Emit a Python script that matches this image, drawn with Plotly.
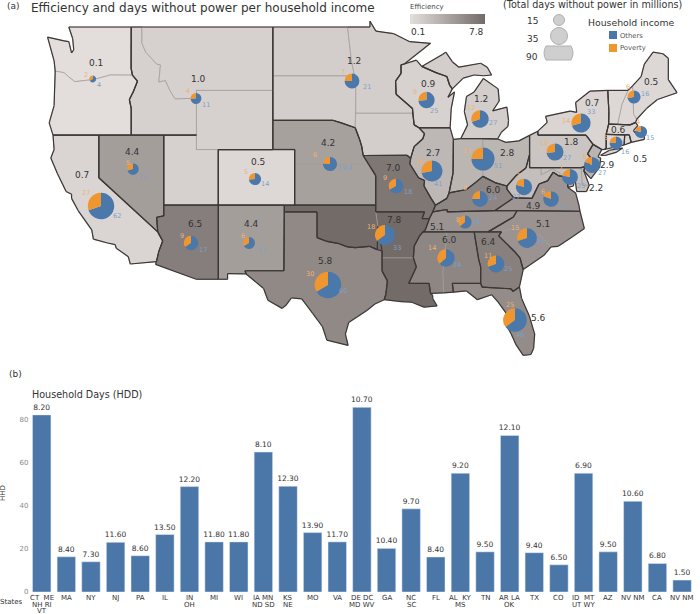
import math
import numpy as np
import plotly.graph_objects as go
from plotly.colors import sample_colorscale

# ---------- bar chart data ----------
bar_labels = ["CT  ME<br>NH RI<br>VT", "MA", "NY", "NJ", "PA", "IL", "IN<br>OH", "MI", "WI", "IA MN<br>ND SD",
              "KS<br>NE", "MO", "VA", "DE DC<br>MD WV", "GA", "NC<br>SC", "FL", "AL  KY<br>MS", "TN", "AR LA<br>OK",
              "TX", "CO", "ID  MT<br>UT WY", "AZ", "NV NM", "CA", "NV NM"]
bar_hdd = [82, 16.3, 14, 23, 16.8, 26.6, 48.8, 23.2, 23.2, 64.8, 49, 27.5, 23.2, 85.5, 20.2, 38.5, 16.2, 55, 18.6,
           72.5, 18.2, 12.6, 55, 18.6, 42, 13.2, 5.5]
bar_text = ["8.20", "8.40", "7.30", "11.60", "8.60", "13.50", "12.20", "11.80", "11.80", "8.10", "12.30", "13.90",
            "11.70", "10.70", "10.40", "9.70", "8.40", "9.20", "9.50", "12.10", "9.40", "6.50", "6.90", "9.50",
            "10.60", "6.80", "1.50"]

# ---------- map data: state outlines (lon, lat) ----------
col_river = [(-116.92,45.99),(-118.98,46.0),(-119.3,45.93),(-120.5,45.7),(-121.2,45.65),(-122.2,45.57),(-122.8,45.9),(-123.2,46.15),(-124.0,46.25)]
red_river = [(-100,34.56),(-99.2,34.3),(-98.1,34.13),(-97.2,33.85),(-96.5,33.8),(-95.2,33.9),(-94.48,33.64),(-94.04,33.55)]
states = {
 "WA": [[(-122.75,49),(-117.03,49),(-117.04,46.42)] + col_river + [(-124.1,46.9),(-124.7,48.38),(-123.2,48.15),(-122.75,48.1),(-122.5,47.4),(-122.3,47.6),(-122.4,48.3)]],
 "OR": [col_river[::-1] + [(-116.46,45.6),(-116.85,44.9),(-117.2,44.4),(-117.03,43.8),(-117.03,42),(-124.2,42),(-124.55,42.84),(-124.1,44)]],
 "ID": [[(-117.03,49),(-116.05,49),(-116.05,48),(-115.7,47.45),(-114.7,46.7),(-114.35,46.65),(-114.5,45.55),(-113.9,45.65),(-113.45,44.95),(-113.0,44.45),(-111.05,44.48),(-111.05,42),(-117.03,42),(-117.03,43.8),(-117.2,44.4),(-116.85,44.9),(-116.46,45.6),(-116.92,45.99),(-117.04,46.42)]],
 "MT": [[(-116.05,49),(-104.05,49),(-104.05,45.94),(-104.05,45),(-111.05,45),(-111.05,44.48),(-113.0,44.45),(-113.45,44.95),(-113.9,45.65),(-114.5,45.55),(-114.35,46.65),(-114.7,46.7),(-115.7,47.45),(-116.05,48)]],
 "WY": [[(-111.05,45),(-104.05,45),(-104.05,43),(-104.05,41),(-109.05,41),(-111.05,41),(-111.05,42),(-111.05,44.48)]],
 "UT": [[(-114.05,42),(-111.05,42),(-111.05,41),(-109.05,41),(-109.05,37),(-114.05,37)]],
 "CO": [[(-109.05,41),(-104.05,41),(-102.05,41),(-102.05,40),(-102.05,37),(-103,37),(-109.05,37)]],
 "NV": [[(-120,42),(-117.03,42),(-114.05,42),(-114.05,37),(-114.05,36.2),(-114.7,36.1),(-114.6,35),(-120,39)]],
 "CA": [[(-124.2,42),(-120,42),(-120,39),(-114.6,35),(-114.15,34.3),(-114.5,33.5),(-114.72,32.72),(-117.12,32.53),(-117.3,33.1),(-118.4,33.75),(-118.5,34.03),(-119.2,34.15),(-120.5,34.45),(-120.65,35.15),(-121.9,36.6),(-122.5,37.5),(-122.5,37.8),(-123.0,38),(-123.8,39.3),(-124.4,40.4),(-124.1,41)]],
 "AZ": [[(-114.05,37),(-109.05,37),(-109.05,31.33),(-111.07,31.33),(-114.8,32.5),(-114.72,32.72),(-114.5,33.5),(-114.15,34.3),(-114.6,35),(-114.7,36.1),(-114.05,36.2)]],
 "NM": [[(-109.05,37),(-103,37),(-103,36.5),(-103.04,32),(-106.6,32),(-106.5,31.75),(-108.2,31.78),(-108.2,31.33),(-109.05,31.33)]],
 "TX": [[(-103,36.5),(-100,36.5)] + red_river + [(-94.04,33),(-94.04,31.99),(-93.55,31.2),(-93.7,30.1),(-93.85,29.7),(-94.7,29.35),(-95.4,28.85),(-97.1,27.85),(-97.4,26.9),(-97.15,25.96),(-99.1,26.4),(-99.5,27.5),(-100.4,28.6),(-101.4,29.77),(-102.35,29.85),(-102.85,29.25),(-103.2,29),(-104.5,29.65),(-104.9,30.6),(-106.5,31.75),(-106.6,32),(-103.04,32)]],
 "OK": [[(-103,37),(-102.05,37),(-94.62,37),(-94.62,36.5),(-94.43,35.4)] + red_river[::-1] + [(-100,36.5),(-103,36.5)]],
 "AR": [[(-94.62,36.5),(-90.15,36.5),(-90.37,36),(-89.7,36),(-90.1,35.1),(-90.3,35),(-90.6,34.7),(-91.1,33.9),(-91.17,33),(-94.04,33),(-94.04,33.55),(-94.48,33.64),(-94.43,35.4)]],
 "LA": [[(-94.04,33),(-91.17,33),(-90.9,32.3),(-91.6,31),(-89.73,31),(-89.6,30.2),(-89.4,30.05),(-89.4,29.8),(-89.0,29.2),(-90.2,29.1),(-91.3,29.5),(-92.3,29.55),(-93.85,29.7),(-93.7,30.1),(-93.55,31.2),(-94.04,31.99)]],
 "MS": [[(-90.3,35),(-88.2,35),(-88.1,34.9),(-88.47,31.9),(-88.4,30.25),(-89.6,30.2),(-89.73,31),(-91.6,31),(-90.9,32.3),(-91.17,33),(-91.1,33.9),(-90.6,34.7)]],
 "AL": [[(-88.2,35),(-85.6,35),(-85.18,32.87),(-85,32.3),(-85,31),(-87.6,31),(-87.5,30.3),(-88.4,30.25),(-88.47,31.9),(-88.1,34.9)]],
 "GA": [[(-85.6,35),(-84.32,35),(-83.1,35),(-83.35,34.7),(-81.9,33.5),(-81.4,33),(-81.1,32.1),(-81.45,30.72),(-82.05,30.36),(-82.2,30.57),(-84.86,30.7),(-85,31),(-85,32.3),(-85.18,32.87)]],
 "FL": [[(-87.6,31),(-85,31),(-84.86,30.7),(-82.2,30.57),(-82.05,30.36),(-81.45,30.72),(-81.25,29.8),(-80.55,28.4),(-80.05,26.9),(-80.15,25.7),(-80.4,25.2),(-81.1,25.13),(-81.75,26),(-82.2,26.9),(-82.75,27.8),(-82.65,28.6),(-83.4,29.5),(-84.0,30.1),(-85.3,29.7),(-86.3,30.4),(-87.5,30.3)]],
 "SC": [[(-83.35,34.7),(-83.1,35),(-82.3,35.2),(-81.05,35.1),(-80.8,34.82),(-79.67,34.8),(-78.55,33.86),(-79.2,33.2),(-80.4,32.5),(-81.1,32.1),(-81.4,33),(-81.9,33.5)]],
 "NC": [[(-84.32,35),(-83.1,35),(-82.3,35.2),(-81.05,35.1),(-80.8,34.82),(-79.67,34.8),(-78.55,33.86),(-77.9,33.9),(-76.55,34.65),(-75.5,35.25),(-75.9,36.55),(-81.68,36.59),(-82.0,36.12)]],
 "TN": [[(-90.3,35),(-88.2,35),(-85.6,35),(-84.32,35),(-82.0,36.12),(-81.68,36.59),(-83.68,36.6),(-88.07,36.5),(-88.07,36.68),(-89.4,36.5),(-89.7,36),(-90.1,35.1)]],
 "KY": [[(-89.4,36.5),(-88.07,36.68),(-88.07,36.5),(-83.68,36.6),(-81.97,37.54),(-82.6,38.17),(-82.6,38.4),(-83.7,38.65),(-84.8,39.1),(-85.4,38.7),(-86.3,38.15),(-87.9,37.9),(-88.1,37.5),(-89.15,37)]],
 "VA": [[(-83.68,36.6),(-81.68,36.59),(-75.9,36.55),(-76.0,37.0),(-76.3,37.9),(-77.0,38.3),(-77.05,38.85),(-77.5,39.1),(-77.83,39.13),(-78.35,39.4),(-78.87,38.77),(-79.65,38.55),(-80.3,37.5),(-81.97,37.54)]],
 "WV": [[(-81.97,37.54),(-80.3,37.5),(-79.65,38.55),(-78.87,38.77),(-78.35,39.4),(-77.83,39.13),(-77.72,39.32),(-78.4,39.62),(-79.48,39.2),(-79.48,39.72),(-80.52,39.72),(-80.52,40.64),(-80.85,39.7),(-81.7,39.2),(-82.6,38.4),(-82.6,38.17)]],
 "MD": [[(-79.48,39.72),(-75.79,39.72),(-75.7,38.46),(-75.05,38.45),(-75.3,38),(-76.2,38),(-76.4,39.2),(-76.5,38.4),(-77.0,38.3),(-77.05,38.85),(-77.5,39.1),(-77.83,39.13),(-77.72,39.32),(-78.4,39.62),(-79.48,39.2)]],
 "DE": [[(-75.79,39.72),(-75.42,39.8),(-75.55,39.5),(-75.05,38.45),(-75.7,38.46)]],
 "NJ": [[(-75.42,39.8),(-74.7,40.2),(-75.2,40.7),(-74.7,41.36),(-73.9,41.0),(-74.25,40.5),(-74,40.4),(-74.1,39.75),(-74.9,38.93),(-75.55,39.5)]],
 "PA": [[(-80.52,41.98),(-79.76,42.27),(-79.76,42),(-75.35,42),(-74.7,41.36),(-75.2,40.7),(-74.7,40.2),(-75.42,39.8),(-75.79,39.72),(-79.48,39.72),(-80.52,39.72),(-80.52,40.64)]],
 "NY": [[(-79.76,42.27),(-78.9,42.87),(-79.05,43.27),(-76.8,43.63),(-76.2,43.55),(-76.3,44.2),(-75,44.95),(-73.35,45),(-73.25,43.6),(-73.27,42.75),(-73.5,42.05),(-73.49,41.1),(-73.65,41),(-73.9,41.0),(-74.7,41.36),(-75.35,42),(-79.76,42)],
        [(-74.0,40.6),(-73.2,40.95),(-72.0,41.1),(-72.6,40.8),(-73.6,40.58)]],
 "CT": [[(-73.5,42.05),(-71.8,42.02),(-71.85,41.32),(-73.65,41),(-73.49,41.1)]],
 "RI": [[(-71.8,42.02),(-71.38,42.02),(-71.2,41.5),(-71.85,41.32)]],
 "MA": [[(-73.5,42.05),(-73.27,42.75),(-72.46,42.73),(-71.3,42.7),(-70.8,42.87),(-70.6,42.65),(-71,42.3),(-70.6,41.95),(-70,42.05),(-70,41.7),(-70.6,41.6),(-71.2,41.5),(-71.38,42.02),(-71.8,42.02)]],
 "VT": [[(-73.35,45),(-71.5,45),(-72.05,44.1),(-72.46,42.73),(-73.27,42.75),(-73.25,43.6)]],
 "NH": [[(-71.5,45),(-71.08,45.3),(-70.98,43.4),(-70.7,43.08),(-70.8,42.87),(-71.3,42.7),(-72.46,42.73),(-72.05,44.1)]],
 "ME": [[(-71.08,45.3),(-70.3,45.9),(-70,46.7),(-69.2,47.45),(-68.3,47.35),(-67.8,47.07),(-67.8,45.7),(-67,44.85),(-68.8,44.4),(-69.8,43.8),(-70.7,43.08),(-70.98,43.4)]],
 "MI": [[(-86.82,41.76),(-84.8,41.76),(-83.45,41.73),(-83.1,42.2),(-82.5,42.6),(-82.45,43),(-82.6,43.9),(-83.9,43.65),(-83.3,44.3),(-83.4,45.1),(-84.75,45.78),(-85.6,44.9),(-86.3,44.6),(-86.5,43.6),(-86.2,42.7)],
        [(-90.4,46.55),(-88.5,47.3),(-88.2,47.45),(-87.6,46.85),(-87,46.5),(-85,46.75),(-84.4,46.5),(-84,46),(-84.75,45.95),(-85.6,46),(-86.6,45.8),(-87.6,45.1),(-87.85,45.35),(-88.1,45.9),(-89.1,46.15)]],
 "WI": [[(-92,46.7),(-90.9,46.95),(-90.4,46.55),(-89.1,46.15),(-88.1,45.9),(-87.85,45.35),(-87.6,45.1),(-88,44.55),(-87.4,44.9),(-87.7,43.8),(-87.8,42.5),(-90.65,42.5),(-91.1,42.7),(-91.22,43.5),(-91.25,43.8),(-92.75,44.75),(-92.8,45.6),(-92.3,46.1),(-92.3,46.65)]],
 "MN": [[(-97.2,49),(-95.15,49),(-95.15,49.35),(-94.6,48.75),(-93,48.6),(-91.5,48.1),(-89.6,48),(-92,46.7),(-92.3,46.65),(-92.3,46.1),(-92.8,45.6),(-92.75,44.75),(-91.25,43.8),(-91.22,43.5),(-96.45,43.5),(-96.45,45.3),(-96.55,45.94),(-96.85,46.9)]],
 "ND": [[(-104.05,49),(-97.2,49),(-96.85,46.9),(-96.55,45.94),(-104.05,45.94)]],
 "SD": [[(-104.05,45.94),(-96.55,45.94),(-96.45,45.3),(-96.45,43.5),(-96.5,42.5),(-97.85,42.85),(-98.5,43),(-104.05,43),(-104.05,45)]],
 "NE": [[(-104.05,43),(-98.5,43),(-97.85,42.85),(-96.5,42.5),(-96.1,41.7),(-95.9,41.2),(-95.77,40.58),(-95.3,40),(-102.05,40),(-102.05,41),(-104.05,41)]],
 "KS": [[(-102.05,40),(-95.3,40),(-94.62,39.15),(-94.62,37),(-102.05,37)]],
 "IA": [[(-96.45,43.5),(-91.22,43.5),(-91.1,42.7),(-90.65,42.5),(-90.15,42.1),(-90.3,41.75),(-91.1,41.2),(-91.42,40.38),(-91.75,40.6),(-95.77,40.58),(-95.9,41.2),(-96.1,41.7),(-96.5,42.5)]],
 "MO": [[(-95.77,40.58),(-91.75,40.6),(-91.42,40.38),(-91.5,40),(-90.7,39),(-90.15,38.8),(-90.2,38.4),(-89.55,37.5),(-89.15,37),(-89.4,36.5),(-89.7,36),(-90.37,36),(-90.15,36.5),(-94.62,36.5),(-94.62,37),(-94.62,39.15),(-95.3,40)]],
 "IL": [[(-90.65,42.5),(-87.8,42.5),(-87.5,41.7),(-87.53,39.35),(-87.9,37.9),(-88.1,37.5),(-89.15,37),(-89.55,37.5),(-90.2,38.4),(-90.15,38.8),(-90.7,39),(-91.5,40),(-91.42,40.38),(-91.1,41.2),(-90.3,41.75),(-90.15,42.1)]],
 "IN": [[(-87.5,41.7),(-86.82,41.76),(-84.8,41.76),(-84.8,39.1),(-85.4,38.7),(-86.3,38.15),(-87.9,37.9),(-87.53,39.35)]],
 "OH": [[(-84.8,41.76),(-83.45,41.73),(-82.7,41.5),(-81.5,41.6),(-80.52,41.98),(-80.52,40.64),(-80.85,39.7),(-81.7,39.2),(-82.6,38.4),(-83.7,38.65),(-84.8,39.1)]],
}

# groups of states and their efficiency value
groups = [(("WA","OR"),0.1),(("ID","MT","UT","WY"),1.0),(("ND","SD","IA","MN"),1.2),(("CA",),0.7),(("NV",),4.4),
          (("CO",),0.5),(("AZ",),6.5),(("NM",),4.4),(("KS","NE"),4.2),(("TX",),5.8),(("MO",),7.0),
          (("AR","LA","OK"),7.8),(("WI",),0.9),(("MI",),1.2),(("IL",),2.7),(("IN","OH"),2.8),(("AL","KY","MS"),6.0),
          (("TN",),5.1),(("NC","SC"),5.1),(("GA",),6.4),(("FL",),5.6),(("VA",),4.9),(("PA",),1.8),(("NY",),0.7),
          (("NJ",),2.9),(("DE","MD","WV"),2.2),(("CT",),0.5),(("RI",),0.5),(("MA",),0.6),(("ME","NH","VT"),0.5)]

# pies: others / poverty (millions of days)
pie_names = ["WA OR","ID MT","ND MN","NV","CO","CA","AZ","NM","KS NE","TX","WI","MI","IN OH","IL","MO","AR LA OK","TN",
             "KY","AL MS","GA","NC SC","FL","VA","WV","MD","NJ","PA","NY","CT","MA","ME"]
poverty = [2,4,7,5,5,27,9,6,6,30,9,12,17,16,9,18,8,8,14,11,15,25,6,7,7,6,10,14,5,4,6]
others = [4,11,21,12,14,62,17,12,19.4,60,25,27,51,41,18,33,14,24,24,25,35,46,25,27,25,27,27,33,16,15,16]
pov_text = ["2","4","7","5","5","27","9","6","6","30","9","12","17","16","9","18","8","8","14","11","15","25","6","7","7","6","10","14","5","4","6"]
oth_text = ["4","11","21","12","14","62","17","12","19.4","60","25","27","51","41","18","33","14","24","24","25","35","46","25","27","25","27","27","33","16","15","16"]
pie_cx = [92.7,196,352,133,255,101,191,249,330,328,426.5,480,483,432,396,385,465,480,446,496,527,515,551,524,570,592,555,581,616,641,634]
pie_cy = [79,98.5,81,169,179,206,243,243,164,285,100,119,159,171,186,235,222,199,258,264,238,320,199,187,177,165,152,123,143,132,97]
pov_lx = [86,188,343,128,246,86,182,243,315,310,415,471,467,419,385,371,458,465,432,488,515,510,543,518,561,585,544,566,606,638,628]
pov_ly = [75,91,72,163,172,193,236,236,155,274,92,108,151,162,178,227,220,188,248,256,228,305,192,176,168,157,143,121,138,122,87]
oth_lx = [99,206,367,143,265,117,203,262,345,343,434,493,498,438,408,397,476,493,457,508,541,520,562,516,581,602,567,591,625,650,645]
oth_ly = [85,105,87,176,184,216,250,250,168,291,111,123,166,184,192,248,222,198,265,269,242,335,207,197,186,173,158,112,152,138,94]

eff_text = ["0.1","1.0","1.2","4.4","0.5","0.7","6.5","4.4","4.2","5.8","0.9","1.2","2.8","2.7","7.0","7.8","5.1",
            "6.0","6.0","6.4","5.1","5.6","4.9","2.2","2.9","1.8","0.7","0.6","0.5","0.5"]
eff_x = [96,198,354,132,258,82,195,251,328,325,428,481,507,433,393,394,437,493,449,488,543,538,533,596,607,571,592,618,640,651]
eff_y = [63,79,61,152,162,175,224,224,143,261,84,99,153,153,168,220,227,190,240,242,224,318,206,188,165,142,103,130,159,82]

# size legend
size_labels = ["15","35","90"]
legend_names = ["Others","Poverty"]

C_BLUE, C_ORANGE = "#4a78aa", "#f0962e"
RAMP = [[0,"#e3dedc"],[1,"#736b68"]]
FONT = "DejaVu Sans"
W, H = 700, 614

def merc(lat):
    return math.log(math.tan(math.radians(45 + lat / 2)))

SX, SY = 10.91, 619.0
LON0 = -109.05 - 218.3 / SX
M49 = merc(49)
x_range = [LON0, LON0 + W / SX]
y_range = [M49 - (H - 27) / SY, M49 + 27 / SY]

def px(x): return x / W
def py(y): return 1 - y / H

fig = go.Figure()

def eff_color(v):
    return sample_colorscale(RAMP, (v - 0.1) / 7.7)[0]

for members, val in groups:
    col = eff_color(val)
    for st in members:
        for ring in states[st]:
            xs = [p[0] for p in ring] + [ring[0][0]]
            ys = [merc(p[1]) for p in ring] + [merc(ring[0][1])]
            fig.add_trace(go.Scatter(x=xs, y=ys, mode="lines", fill="toself", fillcolor=col,
                                     line=dict(color="#a09a96", width=0.7), hoverinfo="skip", showlegend=False))

ex, ey = [], []
for members, val in groups:
    count = {}
    for st in members:
        for ring in states[st]:
            for a, b in zip(ring, ring[1:] + ring[:1]):
                k = frozenset((a, b))
                count.setdefault(k, [0, a, b])
                count[k][0] += 1
    for n, a, b in count.values():
        if n == 1:
            ex += [a[0], b[0], None]
            ey += [merc(a[1]), merc(b[1]), None]
fig.add_trace(go.Scatter(x=ex, y=ey, mode="lines", line=dict(color="#3b3735", width=1.2), hoverinfo="skip", showlegend=False))

# bars
fig.add_trace(go.Bar(x=list(range(len(bar_hdd))), y=bar_hdd, xaxis="x2", yaxis="y2", width=0.75, marker_color="#4b76a8",
                     text=bar_text, textposition="outside", cliponaxis=False, constraintext="none",
                     textfont=dict(size=7.5, color="#333333", family=FONT), hoverinfo="skip", showlegend=False))

# efficiency legend ramp
fig.add_trace(go.Heatmap(z=[list(np.linspace(0.1, 7.8, 60))], xaxis="x3", yaxis="y3", colorscale=RAMP, showscale=False, hoverinfo="skip"))

# pies
for i in range(len(pie_names)):
    r = 1.4 * math.sqrt(poverty[i] + others[i])
    fig.add_trace(go.Pie(values=[others[i], poverty[i]], labels=["Others", "Poverty"], sort=False, direction="clockwise", rotation=0,
                         marker=dict(colors=[C_BLUE, C_ORANGE], line=dict(width=0)), textinfo="none", hoverinfo="skip", showlegend=False,
                         domain=dict(x=[px(pie_cx[i] - r), px(pie_cx[i] + r)], y=[py(pie_cy[i] + r), py(pie_cy[i] - r)])))

ann = []
def text(x, y, s, size, color="#333333", anchor="center", **kw):
    ann.append(dict(xref="paper", yref="paper", x=px(x), y=py(y), text=s, showarrow=False, xanchor=anchor, yanchor="middle",
                    font=dict(size=size, color=color, family=FONT), **kw))

for i in range(len(pie_names)):
    text(pov_lx[i], pov_ly[i], pov_text[i], 6.5, "#eeb273")
    text(oth_lx[i], oth_ly[i], oth_text[i], 6.5, "#7f9fc6")
for s, x, y in zip(eff_text, eff_x, eff_y):
    text(x, y, s, 9)

# category labels under the bars, tightly stacked lines
for i, lab in enumerate(bar_labels):
    for line, y in zip(lab.split("<br>"), [598, 604.5, 610.5]):
        ann.append(dict(xref="x2", yref="paper", x=i, y=py(y), text=line, showarrow=False, xanchor="center", yanchor="middle",
                        font=dict(size=7, color="#333333", family=FONT)))

text(5, 6, "(a)", 9, anchor="left")
text(29, 8, "Efficiency and days without power per household income", 12, anchor="left")
text(408, 7, "Efficiency", 7, "#444444", anchor="left")
text(418, 32, "0.1", 9)
text(476, 32, "7.8", 9)
text(592, 4.5, "(Total days without power in millions)", 9.6)
for s, y in zip(size_labels, [21, 39, 57]):
    text(532, y, s, 9)
text(631, 22, "Household income", 9.3)
for s, y in zip(legend_names, [36, 48]):
    text(618, y, s, 6.8, "#555555", anchor="left")
text(15, 374, "(b)", 9)
text(30, 395, "Household Days (HDD)", 9.6, anchor="left")
text(11, 602, "States", 7)
text(3, 493, "HHD", 7, textangle=-90)

shapes = []
def circle(x, y, r):
    shapes.append(dict(type="circle", xref="paper", yref="paper", x0=px(x - r), x1=px(x + r), y0=py(y + r), y1=py(y - r),
                       fillcolor="#cfcfcf", line=dict(color="#b0b0b0", width=1)))
circle(559, 20, 5.5)
circle(559, 36, 8.5)
shapes.append(dict(type="path", xref="paper", yref="paper", fillcolor="#cfcfcf", line=dict(color="#b0b0b0", width=1),
                   path=f"M {px(546)} {py(46)} L {px(571)} {py(46)} Q {px(575)} {py(53)} {px(571)} {py(60)} L {px(546)} {py(60)} Q {px(542)} {py(53)} {px(546)} {py(46)} Z"))
for c, y in zip([C_BLUE, C_ORANGE], [35, 48]):
    shapes.append(dict(type="rect", xref="paper", yref="paper", x0=px(609), x1=px(617), y0=py(y + 4), y1=py(y - 4), fillcolor=c, line=dict(width=0)))

fig.update_layout(
    width=W, height=H, margin=dict(l=0, r=0, t=0, b=0, autoexpand=False), paper_bgcolor="white", plot_bgcolor="rgba(0,0,0,0)",
    showlegend=False, annotations=ann, shapes=shapes, font=dict(family=FONT),
    xaxis=dict(domain=[0, 1], range=x_range, visible=False, fixedrange=True, automargin=False),
    yaxis=dict(domain=[0, 1], range=y_range, visible=False, fixedrange=True, automargin=False),
    xaxis2=dict(domain=[px(29.4), px(694.4)], range=[-0.5, 26.5], anchor="y2", showticklabels=False, ticks="", showgrid=False,
                zeroline=False, showline=False, automargin=False, fixedrange=True),
    yaxis2=dict(domain=[py(592), py(400)], range=[0, 88.9], anchor="x2", tickvals=[0, 20, 40, 60, 80], showgrid=False, zeroline=False,
                showline=False, ticks="", automargin=False, tickfont=dict(size=7, color="#8a8a8a", family=FONT), fixedrange=True),
    xaxis3=dict(domain=[px(410), px(485)], anchor="y3", visible=False, fixedrange=True, automargin=False),
    yaxis3=dict(domain=[py(24), py(14)], anchor="x3", visible=False, fixedrange=True, automargin=False),
)
fig.write_html("out.html", post_script="document.body.style.margin='0';", config={"displayModeBar": False})
